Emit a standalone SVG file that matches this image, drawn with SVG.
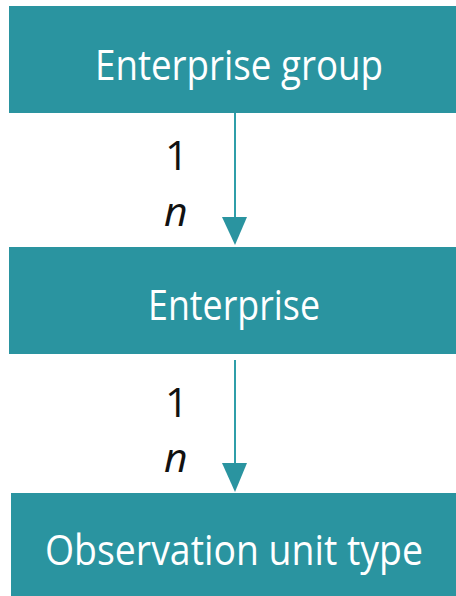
<svg xmlns="http://www.w3.org/2000/svg" width="456" height="596" viewBox="0 0 456 596">
<style>
.box{fill:#2a94a0}
.t{font-family:"Open Sans","Noto Sans",sans-serif;font-size:42px;fill:#ffffff;text-anchor:middle}
.lbl{font-family:"Open Sans","Noto Sans",sans-serif;font-size:41px;fill:#111111}
.conn{stroke:#2f9ea9;stroke-width:2;fill:none}
.head{fill:#2a94a0}
</style>
<rect width="456" height="596" fill="#ffffff"/>
<g id="enterprise-group">
<rect class="box" x="9" y="6" width="447" height="107"/>
<text class="t" x="239" y="80" textLength="288" lengthAdjust="spacingAndGlyphs">Enterprise group</text>
</g>
<g id="enterprise">
<rect class="box" x="9" y="247" width="447" height="107"/>
<text class="t" x="234" y="320" textLength="172" lengthAdjust="spacingAndGlyphs">Enterprise</text>
</g>
<g id="observation-unit-type">
<rect class="box" x="11" y="493" width="445" height="103"/>
<text class="t" x="234" y="565" textLength="378" lengthAdjust="spacingAndGlyphs">Observation unit type</text>
</g>
<g id="connectors">
<line class="conn" x1="235" y1="113" x2="235" y2="225"/>
<path class="head" d="M222,217 L247,217 L235,245 Z"/>
<line class="conn" x1="235" y1="360" x2="235" y2="470"/>
<path class="head" d="M222,463 L247,463 L235,492 Z"/>
<text class="lbl" x="165" y="170">1</text>
<text class="lbl" x="164" y="226" font-style="italic">n</text>
<text class="lbl" x="165" y="417">1</text>
<text class="lbl" x="164" y="472" font-style="italic">n</text>
</g>
</svg>
